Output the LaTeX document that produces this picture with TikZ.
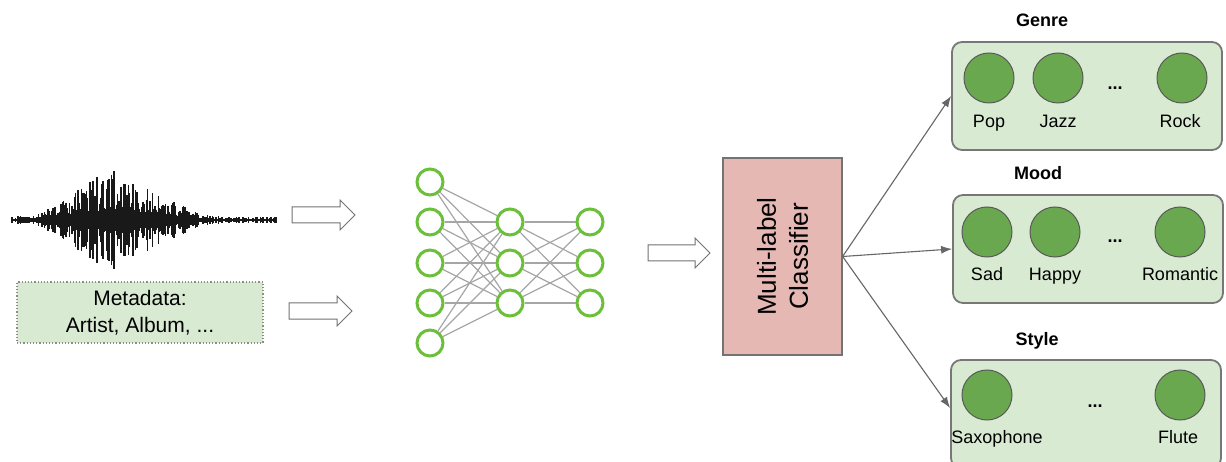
\documentclass[tikz,border=0pt]{standalone}
\usepackage{fontspec}
\setmainfont{Liberation Sans}
\usetikzlibrary{arrows.meta,calc}
\definecolor{boxgreen}{HTML}{D9EAD3}
\definecolor{dotgreen}{HTML}{6AA84F}
\definecolor{netgreen}{HTML}{6CBF3A}
\definecolor{clspink}{HTML}{E6B8B4}
\definecolor{edgegray}{HTML}{777777}
\newcommand\hollowarrow[3]{%
  \draw[draw=black!55, line width=1pt, fill=white]
    (#1,#3-8) -- (#2-15,#3-8) -- (#2-15,#3-15) -- (#2,#3) -- (#2-15,#3+15)
    -- (#2-15,#3+8) -- (#1,#3+8) -- cycle;}
\begin{document}
\begin{tikzpicture}[x=1pt,y=-1pt,
  lbl/.style={font=\fontsize{18}{20}\selectfont, inner sep=0pt, anchor=base},
  ttl/.style={font=\bfseries\fontsize{18}{20}\selectfont, inner sep=0pt, anchor=base},
  outbox/.style={draw=edgegray, line width=1.8pt, fill=boxgreen, rounded corners=10pt,
    minimum width=270pt, minimum height=108pt, inner sep=0pt},
  dot/.style={circle, draw=black!65, line width=1pt, fill=dotgreen, minimum size=50pt, inner sep=0pt},
  neuron/.style={circle, draw=netgreen, line width=3pt, fill=white, minimum size=26pt, inner sep=0pt},
  link/.style={draw=black!35, line width=1.2pt},
  outarrow/.style={draw=black!60, line width=1.1pt, -{Latex[length=11pt,width=8pt]}},
  dots/.style={font=\bfseries\fontsize{18}{20}\selectfont, inner sep=0pt},
]
\useasboundingbox[fill=white] (0,0) rectangle (1226,462);

% waveform
\pgfmathsetseed{7}
\draw[line width=2pt] (12,220) -- (277,220);
\foreach \x in {12,13.2,...,277}{
  \pgfmathsetmacro\a{(3+46*exp(-((\x-112)/48)^2)+8*exp(-((\x-175)/25)^2))*(0.2+0.8*rnd)}
  \draw[line width=1.6pt, black!90] (\x,220-\a) -- (\x,220+\a);
}

% metadata box
\node[draw=black!45, dotted, line width=1.2pt, fill=boxgreen, minimum width=246pt,
  minimum height=61pt, align=center, font=\fontsize{21}{27}\selectfont] (meta) at (140,312.5)
  {Metadata:\\Artist, Album, ...};

% hollow arrows
\hollowarrow{292}{355}{215}
\hollowarrow{289}{352}{311}
\hollowarrow{648}{710}{253}

% neural net
\foreach \i/\y in {1/182,2/222,3/263,4/303,5/343}{
  \node[neuron] (a\i) at (430,\y) {};
}
\foreach \i/\y in {1/222,2/263,3/303}{
  \node[neuron] (b\i) at (510,\y) {};
  \node[neuron] (c\i) at (590,\y) {};
}
\foreach \i in {1,...,5}{
  \foreach \j in {1,2,3}{
    \draw[link] (a\i) -- (b\j);
  }
}
\foreach \i in {1,2,3}{
  \foreach \j in {1,2,3}{
    \draw[link] (b\i) -- (c\j);
  }
}

% classifier
\node[draw=black!55, line width=1.2pt, fill=clspink, minimum width=119pt,
  minimum height=197pt, inner sep=0pt] (cls) at (782.5,256.5) {};
\node[rotate=90, align=center, font=\fontsize{26}{32}\selectfont, inner sep=0pt]
  (clstxt) at (cls.center) {Multi-label\\Classifier};

% output boxes
\node[outbox] (genre) at (1087,96) {};
\node[outbox] (mood) at (1088,249) {};
\node[outbox] (style) at (1086,414) {};

\node[ttl] (tgenre) at (1042,27) {Genre};
\node[ttl] (tmood) at (1038,180) {Mood};
\node[ttl] (tstyle) at (1037,345) {Style};

% genre
\node[dot] (pop) at (989,78) {};
\node[dot] (jazz) at (1058,78) {};
\node[dot] (rock) at (1182,78) {};
\node[dots] (gd) at (1115,88) {...};
\node[lbl] (lpop) at (989,128) {Pop};
\node[lbl] (ljazz) at (1058,128) {Jazz};
\node[lbl] (lrock) at (1180,128) {Rock};

% mood
\node[dot] (sad) at (987,232) {};
\node[dot] (happy) at (1055,232) {};
\node[dot] (rom) at (1180,232) {};
\node[dots] (md) at (1115,241) {...};
\node[lbl] (lsad) at (987,280) {Sad};
\node[lbl] (lhappy) at (1055,280) {Happy};
\node[lbl] (lrom) at (1180,280) {Romantic};

% style
\node[dot] (sax) at (987,395) {};
\node[dot] (flute) at (1180,395) {};
\node[dots] (sd) at (1095,406) {...};
\node[lbl] (lsax) at (997,443) {Saxophone};
\node[lbl] (lflute) at (1178,443) {Flute};

% output arrows
\draw[outarrow] (cls.east) -- (genre.west);
\draw[outarrow] (cls.east) -- (mood.west);
\draw[outarrow] (cls.east) -- ($(style.west)+(0,-6)$);
\end{tikzpicture}
\end{document}
